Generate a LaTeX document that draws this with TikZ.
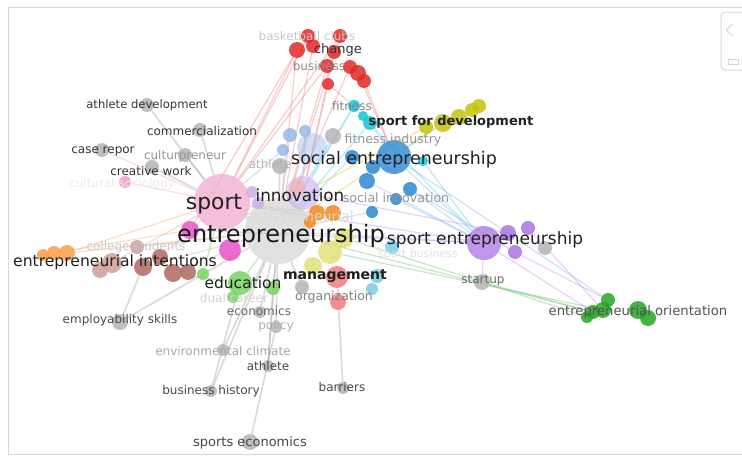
\documentclass[tikz,border=0pt]{standalone}
\usepackage{fontspec}
\newfontfamily\lf{DejaVu Sans}
\pgfdeclarelayer{bg}
\pgfsetlayers{bg,main}
\definecolor{cRed}{RGB}{226,40,40}
\definecolor{cCyan}{RGB}{20,195,215}
\definecolor{cBlue}{RGB}{45,135,210}
\definecolor{cLBlue}{RGB}{150,185,230}
\definecolor{cOlive}{RGB}{195,195,10}
\definecolor{cPurple}{RGB}{170,115,225}
\definecolor{cPink}{RGB}{240,170,205}
\definecolor{cMag}{RGB}{230,85,200}
\definecolor{cOrange}{RGB}{245,135,25}
\definecolor{cGreen}{RGB}{35,165,35}
\definecolor{cLGreen}{RGB}{120,210,95}
\definecolor{cBrown}{RGB}{175,105,95}
\definecolor{cPBrown}{RGB}{205,160,150}
\definecolor{cGray}{RGB}{180,180,180}
\definecolor{cYellow}{RGB}{225,225,120}
\definecolor{cSalmon}{RGB}{240,125,125}
\definecolor{cLCyan}{RGB}{120,205,230}
\definecolor{cLav}{RGB}{200,175,235}
\definecolor{cFrame}{RGB}{215,215,215}
\tikzset{
  bub/.style={circle, inner sep=0pt, minimum size=#1, draw=none, fill opacity=.85},
  lab/.style={inner sep=0pt, font=\lf\fontsize{#1}{#1}\selectfont},
  lab/.default=12,
  edge/.style={line width=1.2pt, draw opacity=.45},
  gedge/.style={line width=1.6pt, draw opacity=.5},
}
\begin{document}
\begin{tikzpicture}[x=1pt,y=-1pt]
\useasboundingbox (0,0) rectangle (742,461);
% frame
\draw[cFrame, line width=1pt] (742,7.5) -- (8.5,7.5) -- (8.5,454) -- (742,454);
\draw[cFrame, line width=1pt, rounded corners=4] (745,12) -- (721,12) -- (721,70) -- (745,70);
\draw[cFrame, line width=1pt] (733,24) -- (726,30) -- (733,36);
\draw[cFrame, line width=1pt] (728,59) rectangle (738,64);

% ---------- bubbles ----------
% big ones
\node[bub=66, fill=cGray!75, fill opacity=.55] (ent) at (278,231) {};
\node[bub=56, fill=cPink, fill opacity=.75] (spo) at (222,202) {};
\node[bub=34, fill=cLav, fill opacity=.6] (inn) at (303,193) {};
\node[bub=30, fill=cLBlue, fill opacity=.45] (lbBig) at (312,148) {};
\node[bub=34, fill=cBlue, fill opacity=.8] (soc) at (394,157) {};
\node[bub=34, fill=cPurple, fill opacity=.75] (spe) at (484,243) {};
% red
\node[bub=16, fill=cRed] (rA) at (297,50) {};
\node[bub=14, fill=cRed] (rC) at (313,46) {};
\node[bub=14, fill=cRed] (rB) at (308,36) {};
\node[bub=14, fill=cRed] (rD) at (340,36) {};
\node[bub=14, fill=cRed] (rE) at (334,52) {};
\node[bub=14, fill=cRed] (rF) at (327,66) {};
\node[bub=14, fill=cRed] (rG) at (350,67) {};
\node[bub=16, fill=cRed] (rH) at (358,73) {};
\node[bub=14, fill=cRed] (rI) at (364,81) {};
\node[bub=12, fill=cRed] (rJ) at (328,84) {};
% cyan
\node[bub=12, fill=cCyan] (cA) at (354,106) {};
\node[bub=10, fill=cCyan] (cC) at (363,116) {};
\node[bub=14, fill=cCyan] (cB) at (370,123) {};
\node[bub=10, fill=cCyan] (cD) at (423,161) {};
% blue
\node[bub=14, fill=cBlue] (bA) at (352,157) {};
\node[bub=14, fill=cBlue] (bB) at (373,167) {};
\node[bub=16, fill=cBlue] (bC) at (367,181) {};
\node[bub=14, fill=cBlue] (bD) at (410,189) {};
\node[bub=12, fill=cBlue] (bE) at (396,199) {};
\node[bub=12, fill=cBlue] (bF) at (372,212) {};
% light blue
\node[bub=14, fill=cLBlue] (lbA) at (290,135) {};
\node[bub=12, fill=cLBlue] (lbB) at (305,131) {};
\node[bub=12, fill=cLBlue] (lbC) at (283,150) {};
\node[bub=16, fill=cGray] (gLb) at (333,136) {};
% olive
\node[bub=18, fill=cOlive] (oA) at (443,123) {};
\node[bub=16, fill=cOlive] (oB) at (459,117) {};
\node[bub=14, fill=cOlive] (oC) at (472,110) {};
\node[bub=14, fill=cOlive] (oD) at (479,106) {};
\node[bub=14, fill=cOlive] (oE) at (426,127) {};
% purple / lavender small
\node[bub=12, fill=cLav] (pvA) at (252,192) {};
\node[bub=12, fill=cLav] (pvB) at (258,203) {};
\node[bub=16, fill=cSalmon!60, fill opacity=.7] (pvC) at (298,187) {};
% magenta
\node[bub=18, fill=cMag] (mA) at (190,230) {};
\node[bub=22, fill=cMag] (mB) at (230,250) {};
% orange
\node[bub=16, fill=cOrange] (orA) at (317,213) {};
\node[bub=16, fill=cOrange] (orB) at (333,213) {};
\node[bub=12, fill=cOrange] (orC) at (310,222) {};
% yellow
\node[bub=20, fill=cYellow] (yA) at (344,238) {};
\node[bub=24, fill=cYellow] (yB) at (330,252) {};
\node[bub=18, fill=cYellow] (yC) at (313,266) {};
\node[bub=14, fill=cLCyan] (lcD) at (392,247) {};
% salmon
\node[bub=22, fill=cSalmon] (sA) at (337,277) {};
\node[bub=16, fill=cSalmon] (sB) at (338,302) {};
\node[bub=14, fill=cGray] (gOrg) at (302,287) {};
\node[bub=14, fill=cLCyan] (lcA) at (377,276) {};
\node[bub=12, fill=cLCyan] (lcB) at (372,289) {};
% green education
\node[bub=12, fill=cLGreen] (eA) at (203,274) {};
\node[bub=24, fill=cLGreen] (eB) at (240,283) {};
\node[bub=14, fill=cLGreen] (eC) at (273,288) {};
\node[bub=12, fill=cLGreen] (eD) at (233,297) {};
% brown
\node[bub=14, fill=cPBrown] (brP) at (137,247) {};
\node[bub=16, fill=cPBrown] (brQ) at (100,270) {};
\node[bub=20, fill=cPBrown] (brA) at (112,263) {};
\node[bub=16, fill=cBrown] (brE) at (160,257) {};
\node[bub=18, fill=cBrown] (brB) at (143,267) {};
\node[bub=18, fill=cBrown] (brC) at (173,273) {};
\node[bub=16, fill=cBrown] (brD) at (188,272) {};
% orange left
\node[bub=12, fill=cOrange!80] (oiA) at (43,255) {};
\node[bub=14, fill=cOrange!80] (oiB) at (54,253) {};
\node[bub=16, fill=cOrange!80] (oiC) at (67,253) {};
% purple sport entrepreneurship
\node[bub=16, fill=cPurple] (peA) at (508,233) {};
\node[bub=14, fill=cPurple] (peB) at (528,228) {};
\node[bub=14, fill=cPurple] (peC) at (515,252) {};
\node[bub=14, fill=cGray] (gPe) at (545,248) {};
\node[bub=16, fill=cGray] (st) at (482,282) {};
% green orientation
\node[bub=12, fill=cGreen] (eoF) at (587,317) {};
\node[bub=14, fill=cGreen] (eoA) at (593,312) {};
\node[bub=14, fill=cGreen] (eoB) at (608,300) {};
\node[bub=16, fill=cGreen] (eoC) at (603,310) {};
\node[bub=18, fill=cGreen] (eoD) at (638,310) {};
\node[bub=16, fill=cGreen] (eoE) at (648,318) {};
% pink small
\node[bub=12, fill=cPink!80!cMag] (pA) at (125,182) {};
% gray keyword bubbles
\node[bub=14, fill=cGray] (gAthDev) at (147,105) {};
\node[bub=14, fill=cGray] (gComm) at (200,130) {};
\node[bub=14, fill=cGray] (gCase) at (102,150) {};
\node[bub=14, fill=cGray] (gCultp) at (185,155) {};
\node[bub=14, fill=cGray] (gCreat) at (152,167) {};
\node[bub=16, fill=cGray] (gAthl) at (280,166) {};
\node[bub=16, fill=cGray] (gEmploy) at (120,322) {};
\node[bub=12, fill=cGray] (gEcon) at (260,312) {};
\node[bub=12, fill=cGray] (gPolicy) at (276,327) {};
\node[bub=12, fill=cGray] (gEnv) at (223,350) {};
\node[bub=12, fill=cGray] (gAthlete) at (268,366) {};
\node[bub=12, fill=cGray] (gBizHist) at (211,391) {};
\node[bub=12, fill=cGray] (gBarr) at (343,388) {};
\node[bub=16, fill=cGray] (gSportsEco) at (250,442) {};

% ---------- edges ----------
\begin{pgfonlayer}{bg}
\foreach \a/\b in {rA/spo,rB/spo,rC/ent,rD/ent,rE/inn,rF/spo,rG/ent,rH/soc,rI/soc,rJ/inn,rA/ent,rD/spo,rA/mA,rF/ent,rJ/cA}
  \draw[edge, cRed!55] (\a) -- (\b);
\foreach \a/\b in {cA/ent,cB/ent,cB/soc,cA/inn,cD/spe,cC/spe,oA/soc}
  \draw[edge, cCyan!70] (\a) -- (\b);
\foreach \a/\b in {soc/spe,bD/spe,bE/spe,bF/ent,bA/ent,bC/spe,soc/eoB,bD/peC}
  \draw[edge, cBlue!55] (\a) -- (\b);
\foreach \a/\b in {lbA/ent,lbC/spo,lbBig/ent,lbB/inn,gLb/ent}
  \draw[edge, cLBlue] (\a) -- (\b);
\foreach \a/\b in {oA/ent,oE/inn}
  \draw[edge, cOlive!80] (\a) -- (\b);
\foreach \a/\b in {spe/ent,spe/spo,spe/eoA,peB/eoC,peC/eoB,st/spe,peA/inn,spe/mA}
  \draw[edge, cPurple!70] (\a) -- (\b);
\foreach \a/\b in {ent/eoA,yB/eoC,st/eoA,yA/st,eB/ent,eB/brC,eA/spo,eC/ent,st/eoF}
  \draw[edge, cGreen!60] (\a) -- (\b);
\foreach \a/\b in {oiC/spo,oiC/ent,oiB/mA,orA/spo}
  \draw[edge, cOrange!60] (\a) -- (\b);
\foreach \a/\b in {brB/ent,brC/ent,brA/spo,brE/spo,brP/ent}
  \draw[edge, cBrown!50] (\a) -- (\b);
\foreach \a/\b in {pA/spo,gCase/spo}
  \draw[edge, cPink] (\a) -- (\b);
\foreach \a/\b in {gAthDev/spo,gComm/spo,gCultp/spo,gCreat/spo,gAthl/ent,gEmploy/ent,gEmploy/brB,gEnv/ent,gAthlete/ent,gBizHist/ent,gBarr/sA,gSportsEco/gPolicy,gPolicy/ent,gEcon/ent,gOrg/ent,gBizHist/eB,gAthlete/eC}
  \draw[gedge, cGray] (\a) -- (\b);
\end{pgfonlayer}

% ---------- labels ----------
\node[lab, text=black!22] (tBasket) at (307,36) {basketball clubs};
\node[lab=13, text=black!80] (tChange) at (338,50) {change};
\node[lab, text=black!45] (tBusiness) at (319,66) {business};
\node[lab, text=black!50] (tFitness) at (352,106) {fitness};
\node[lab=13, text=black!88, font=\lf\bfseries\fontsize{13}{13}\selectfont] (tSfd) at (451,122) {sport for development};
\node[lab=11.6, text=black!80] (tAthDev) at (147,105) {athlete development};
\node[lab, text=black!80] (tComm) at (202,131) {commercialization};
\node[lab, text=black!80] (tCase) at (103,151) {case repor};
\node[lab, text=black!42] (tCultp) at (185,156) {culturpreneur};
\node[lab, text=black!80] (tCreat) at (151,171) {creative work};
\node[lab, text=black!8] (tCultSoc) at (122,184) {cultural sociology};
\node[lab, text=black!30] (tAthl) at (270,164) {athlete};
\node[lab=12.5, text=black!42] (tFitInd) at (393,140) {fitness industry};
\node[lab=17.4, text=black!88] (tSoc) at (394,160) {social entrepreneurship};
\node[lab=21.8, text=black!88] (tSport) at (214,204) {sport};
\node[lab=16.8, text=black!88] (tInn) at (300,195) {innovation};
\node[lab=12.6, text=black!42] (tSocInn) at (396,198) {social innovation};
\node[lab=14, text=black!15, anchor=west] (tEntFaint) at (245,218) {entrepreneurial};
\node[lab=11, text=black!12] (tSpBiz) at (418,254) {sport business};
\node[lab=24, text=black!90] (tEnt) at (281,236) {entrepreneurship};
\node[lab=17, text=black!88] (tSpe) at (485,240) {sport entrepreneurship};
\node[lab, text=black!22] (tCollege) at (136,247) {college students};
\node[lab=15.6, text=black!88] (tEi) at (115,262) {entrepreneurial intentions};
\node[lab=15.5, text=black!88] (tEdu) at (243,283) {education};
\node[lab=14, text=black!88, font=\lf\bfseries\fontsize{14}{14}\selectfont] (tMan) at (335,276) {management};
\node[lab, text=black!18] (tDual) at (234,298) {dual career};
\node[lab=12.5, text=black!50] (tOrg) at (334,297) {organization};
\node[lab, text=black!60] (tEcon) at (259,311) {economics};
\node[lab, text=black!32] (tPolicy) at (276,326) {policy};
\node[lab, text=black!60] (tStart) at (483,281) {startup};
\node[lab=13.2, text=black!68] (tEo) at (638,312) {entrepreneurial orientation};
\node[lab, text=black!72] (tEmploy) at (120,320) {employability skills};
\node[lab, text=black!35] (tEnv) at (223,351) {environmental climate};
\node[lab, text=black!72] (tAthlete) at (268,366) {athlete};
\node[lab, text=black!72] (tBizHist) at (211,391) {business history};
\node[lab, text=black!72] (tBarr) at (342,387) {barriers};
\node[lab=13, text=black!72] (tSportsEco) at (250,443) {sports economics};
\end{tikzpicture}
\end{document}
